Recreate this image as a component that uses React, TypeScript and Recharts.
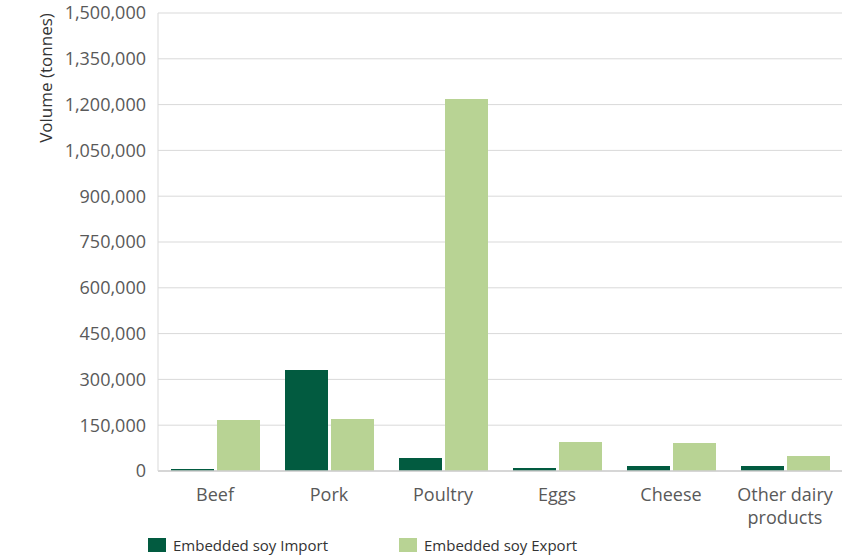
import { Bar, BarChart, CartesianGrid, XAxis, YAxis } from "recharts";

const categories = ["Beef", "Pork", "Poultry", "Eggs", "Cheese", "Other dairy products"];
const importValues = [6500, 331000, 42600, 10000, 16400, 16000];
const exportValues = [167000, 170000, 1218000, 95000, 92000, 49000];
const yTicks = [0, 150000, 300000, 450000, 600000, 750000, 900000, 1050000, 1200000, 1350000, 1500000];

const IMPORT_COLOR = "#025b40";
const EXPORT_COLOR = "#b8d394";
const TEXT_COLOR = "#595959";
const FONT = "'Open Sans', sans-serif";

const data = categories.map((name, i) => ({
  name,
  imp: importValues[i],
  exp: exportValues[i],
}));

const legendItems = [
  { label: "Embedded soy Import", color: IMPORT_COLOR },
  { label: "Embedded soy Export", color: EXPORT_COLOR },
];

function wrapWords(label: string, maxChars: number): string[] {
  const lines: string[] = [];
  let current = "";
  for (const word of label.split(" ")) {
    const next = current ? `${current} ${word}` : word;
    if (next.length > maxChars && current) {
      lines.push(current);
      current = word;
    } else {
      current = next;
    }
  }
  if (current) lines.push(current);
  return lines;
}

function CategoryTick(props: any) {
  const { x, y, payload } = props;
  const lines = wrapWords(String(payload.value), 12);
  return (
    <text x={x} y={y + 22} textAnchor="middle" fill={TEXT_COLOR} fontSize={18} fontFamily={FONT}>
      {lines.map((line, i) => (
        <tspan key={line} x={x} dy={i === 0 ? 0 : 23}>
          {line}
        </tspan>
      ))}
    </text>
  );
}

export default function App() {
  return (
    <div style={{ position: "absolute", left: 0, top: 0, width: 854, height: 557, background: "#fff" }}>
      <BarChart
        width={854}
        height={557}
        data={data}
        margin={{ top: 13, right: 12, bottom: 0, left: 0 }}
        barCategoryGap={13}
        barGap={3}
      >
        <CartesianGrid vertical={false} stroke="#d9d9d9" strokeWidth={1} />
        <XAxis
          dataKey="name"
          height={86}
          tick={<CategoryTick />}
          tickLine={false}
          axisLine={{ stroke: "#cfcfcf", strokeWidth: 1.5 }}
          interval={0}
        />
        <YAxis
          width={158}
          domain={[0, 1500000]}
          ticks={yTicks}
          interval={0}
          tickFormatter={(v: number) => v.toLocaleString("en-US")}
          tick={{ fill: TEXT_COLOR, fontSize: 18, fontFamily: FONT }}
          tickLine={false}
          tickMargin={6}
          axisLine={{ stroke: "#d9d9d9" }}
          label={{
            content: () => (
              <text
                x={45}
                y={78}
                transform="rotate(-90 45 78)"
                textAnchor="middle"
                dominantBaseline="central"
                fill="#333"
                fontSize={17}
                fontFamily={FONT}
              >
                Volume (tonnes)
              </text>
            ),
          }}
        />
        <Bar dataKey="imp" name="Embedded soy Import" fill={IMPORT_COLOR} isAnimationActive={false} />
        <Bar dataKey="exp" name="Embedded soy Export" fill={EXPORT_COLOR} isAnimationActive={false} />
      </BarChart>
      <div
        style={{
          position: "absolute",
          left: 148,
          top: 535,
          display: "flex",
          fontFamily: FONT,
          fontSize: 15,
          lineHeight: "20px",
          color: "#333",
        }}
      >
        {legendItems.map((item) => (
          <div key={item.label} style={{ display: "flex", alignItems: "center", width: 251 }}>
            <span style={{ width: 18, height: 14, background: item.color, marginRight: 7 }} />
            <span>{item.label}</span>
          </div>
        ))}
      </div>
    </div>
  );
}
